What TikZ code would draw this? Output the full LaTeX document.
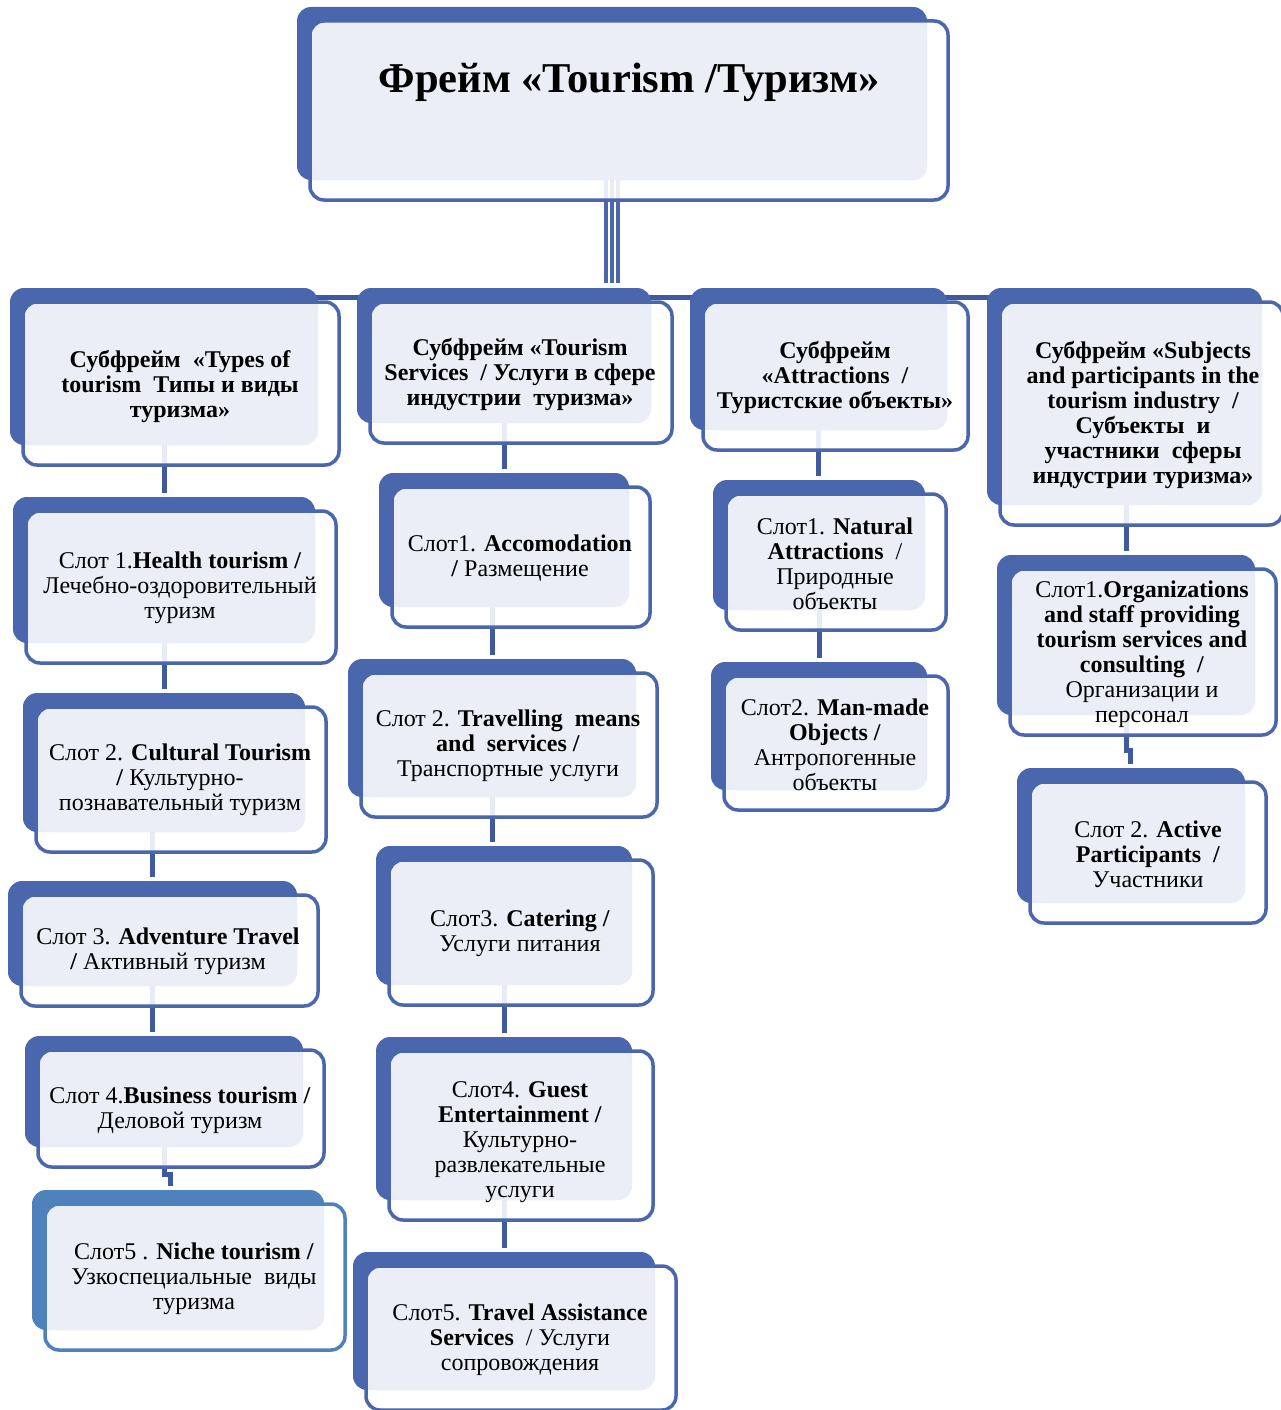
\documentclass[tikz,border=0pt]{standalone}
\usepackage{fontspec}
\setmainfont{Liberation Serif}
\usetikzlibrary{backgrounds,calc}
\definecolor{frameblue}{HTML}{4A66AC}
\definecolor{nicheblue}{HTML}{4F81BD}
\definecolor{tintfill}{HTML}{EBEEF6}
\definecolor{linkblue}{HTML}{3F5B9E}
\tikzset{
    plate/.style={fill=#1, rounded corners=14pt, inner sep=0pt, outer sep=0pt},
    rim/.style={draw=#1, line width=3.5pt, rounded corners=14pt},
    veil/.style={fill=white, fill opacity=0.88, rounded corners=14pt},
    tint/.style={fill=tintfill, rounded corners=14pt},
    link/.style={draw=linkblue, line width=5pt, shorten >=4pt},
    trunk/.style={draw=frameblue, line width=4pt},
    slottext/.style={align=center, inner sep=0pt, yshift=-3pt, font=\fontsize{24}{25}\selectfont},
    headtext/.style={slottext, font=\bfseries\fontsize{24}{25}\selectfont},
    titletext/.style={inner sep=0pt, font=\bfseries\fontsize{42.5}{48}\selectfont}
}
% plate, veil, tint and rim of one frame box
\newcommand{\tourbox}[6][frameblue]{%
    \node[plate=#1, anchor=north west, minimum width={(#5-#3)*1pt},
        minimum height={(#6-#4)*1pt}] (#2) at (#3,#4) {};
    \fill[veil] ([shift={(13,14)}]#2.north west) rectangle ([shift={(21,20)}]#2.south east);
    \fill[tint] ([shift={(14,15)}]#2.north west) rectangle (#2.south east);
    \draw[rim=#1] ([shift={(13,14)}]#2.north west) rectangle ([shift={(21,20)}]#2.south east);
}
\begin{document}
\begin{tikzpicture}[x=1pt, y=-1pt]
    \useasboundingbox (0,0) rectangle (1281,1410);

    % frame
    \tourbox{top}{297}{7}{927}{180}
    \node[titletext] (top-txt) at (629,82) {Фрейм «Tourism /Туризм»};

    % subframes
    \tourbox{sub1}{10}{288}{318}{445}
    \tourbox{sub2}{357}{288}{651}{423}
    \tourbox{sub3}{690}{288}{947}{430}
    \tourbox{sub4}{987}{288}{1262}{505}
    \node[headtext] (sub1-txt) at (180,383) {Субфрейм~ «Types of\\tourism~ Типы и виды\\туризма»};
    \node[headtext] (sub2-txt) at (520,371) {Субфрейм «Tourism\\Services~ / Услуги в сфере\\индустрии~ туризма»};
    \node[headtext] (sub3-txt) at (835,374) {Субфрейм\\«Attractions~ /\\Туристские объекты»};
    \node[headtext] (sub4-txt) at (1143,412) {Субфрейм «Subjects\\and participants in the\\tourism industry~ /\\Субъекты~ и\\участники~ сферы\\индустрии туризма»};

    % slots, column 1
    \tourbox{t1s1}{13}{497}{315}{643}
    \tourbox{t1s2}{23}{693}{305}{832}
    \tourbox{t1s3}{8}{881}{297}{986}
    \tourbox{t1s4}{25}{1036}{303}{1147}
    \tourbox[nicheblue]{t1s5}{32}{1190}{324}{1330}
    \node[slottext] (t1s1-txt) at (180,585) {Слот 1.\textbf{Health tourism /}\\Лечебно-оздоровительный\\туризм};
    \node[slottext] (t1s2-txt) at (180,777) {Слот 2. \textbf{Cultural Tourism}\\\textbf{/} Культурно-\\познавательный туризм};
    \node[slottext] (t1s3-txt) at (168,948) {Слот 3. \textbf{Adventure Travel}\\\textbf{/} Активный туризм};
    \node[slottext] (t1s4-txt) at (180,1107) {Слот 4.\textbf{Business tourism /}\\Деловой туризм};
    \node[slottext] (t1s5-txt) at (194,1276) {Слот5 . \textbf{Niche tourism /}\\Узкоспециальные~ виды\\туризма};

    % slots, column 2
    \tourbox{t2s1}{379}{473}{629}{607}
    \tourbox{t2s2}{348}{659}{636}{797}
    \tourbox{t2s3}{376}{846}{632}{985}
    \tourbox{t2s4}{376}{1037}{632}{1200}
    \tourbox{t2s5}{353}{1252}{655}{1390}
    \node[slottext] (t2s1-txt) at (520,555) {Слот1. \textbf{Accomodation}\\\textbf{/} Размещение};
    \node[slottext] (t2s2-txt) at (508,743) {Слот 2. \textbf{Travelling~ means}\\\textbf{and~ services /}\\Транспортные услуги};
    \node[slottext] (t2s3-txt) at (520,930) {Слот3. \textbf{Catering /}\\Услуги питания};
    \node[slottext] (t2s4-txt) at (520,1139) {Слот4. \textbf{Guest}\\\textbf{Entertainment /}\\Культурно-\\развлекательные\\услуги};
    \node[slottext] (t2s5-txt) at (520,1337) {Слот5. \textbf{Travel Assistance}\\\textbf{Services}~ / Услуги\\сопровождения};

    % slots, column 3
    \tourbox{t3s1}{713}{480}{925}{610}
    \tourbox{t3s2}{711}{662}{927}{790}
    \node[slottext] (t3s1-txt) at (835,561) {Слот1. \textbf{Natural}\\\textbf{Attractions}~ /\\Природные\\объекты};
    \node[slottext] (t3s2-txt) at (835,742) {Слот2. \textbf{Man-made}\\\textbf{Objects /}\\Антропогенные\\объекты};

    % slots, column 4
    \tourbox{t4s1}{997}{555}{1255}{715}
    \tourbox{t4s2}{1017}{768}{1245}{903}
    \node[slottext] (t4s1-txt) at (1142,651) {Слот1.\textbf{Organizations}\\\textbf{and staff providing}\\\textbf{tourism services and}\\\textbf{consulting~ /}\\Организации и\\персонал};
    \node[slottext] (t4s2-txt) at (1148,851) {Слот 2. \textbf{Active}\\\textbf{Participants~ /}\\Участники};

    % connectors behind the boxes
    \begin{scope}[on background layer]
        \foreach \dx in {-6,0,6}
            \draw[trunk] ($(top.south)+(\dx,0)$) -- ++(0,103);
        \draw[link, shorten >=0pt] ($(sub1.north)+(0,9)$) -- ($(sub4.north)+(0,9)$);
        \draw[link] (sub1.south) -- (sub1.south |- t1s1.north);
        \draw[link] (t1s1.south) -- (t1s1.south |- t1s2.north);
        \draw[link] (t1s2.south -| t1s3.north) -- (t1s3.north);
        \draw[link] (t1s3.south) -- (t1s3.south |- t1s4.north);
        \draw[link] (t1s4.south) -- ++(0,27) -- ++(6,0) coordinate (jog1) -- (jog1 |- t1s5.north);
        \draw[link] (sub2.south) -- (sub2.south |- t2s1.north);
        \draw[link] (t2s1.south -| t2s2.north) -- (t2s2.north);
        \draw[link] (t2s2.south) -- (t2s2.south |- t2s3.north);
        \draw[link] (t2s3.south) -- (t2s3.south |- t2s4.north);
        \draw[link] (t2s4.south) -- (t2s4.south |- t2s5.north);
        \draw[link] (sub3.south) -- (sub3.south |- t3s1.north);
        \draw[link] (t3s1.south) -- (t3s1.south |- t3s2.north);
        \draw[link] (sub4.south -| t4s1.north) -- (t4s1.north);
        \draw[link] (t4s1.south) -- ++(0,35) -- ++(4,0) coordinate (jog2) -- (jog2 |- t4s2.north);
    \end{scope}
\end{tikzpicture}
\end{document}
